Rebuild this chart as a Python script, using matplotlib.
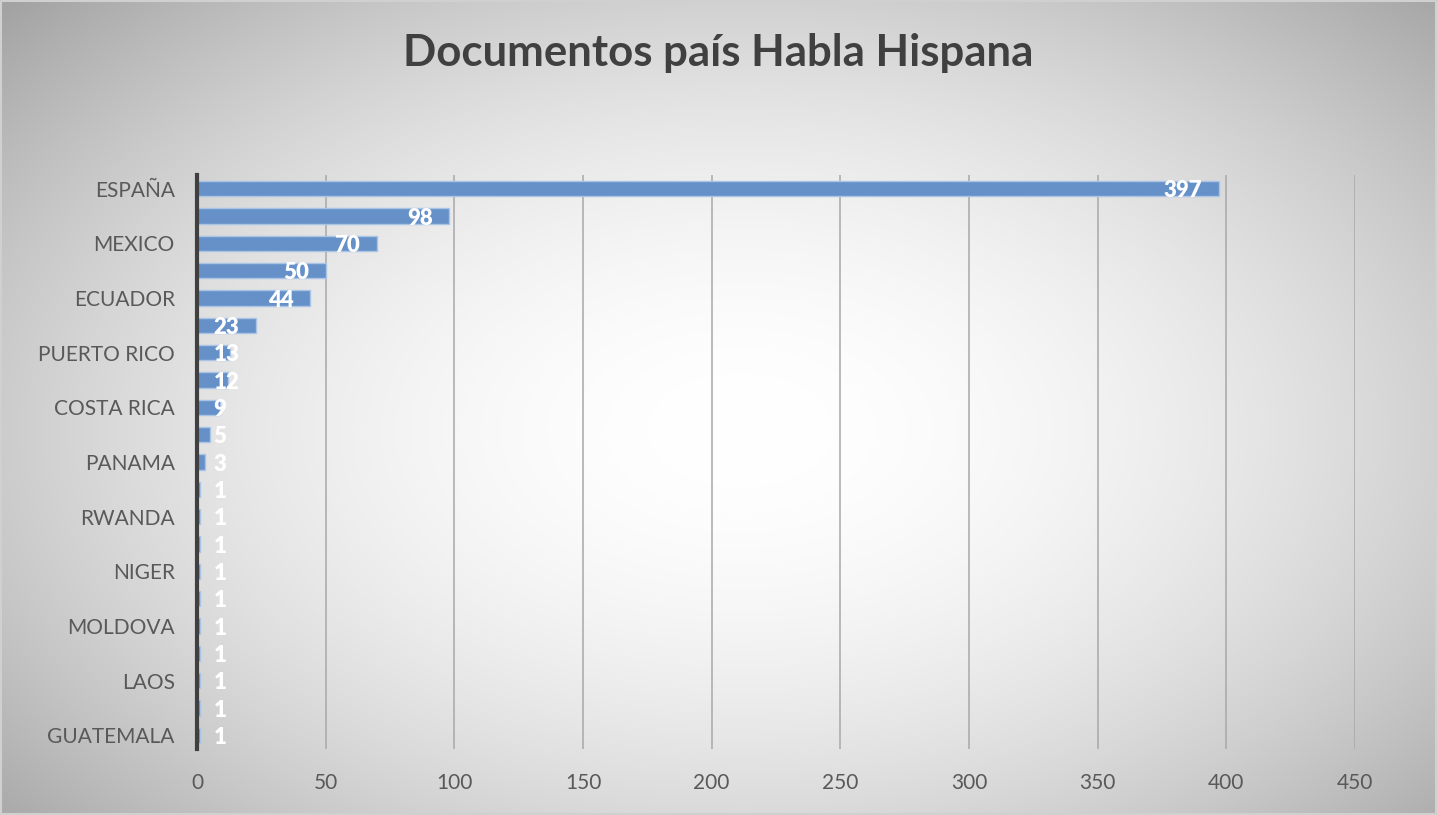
import numpy as np
import matplotlib
matplotlib.use("Agg")
import matplotlib.pyplot as plt

# datos (de arriba a abajo); las etiquetas vacías no se ven en el original
paises = ["ESPAÑA", "", "MEXICO", "", "ECUADOR", "", "PUERTO RICO", "",
          "COSTA RICA", "", "PANAMA", "", "RWANDA", "", "NIGER", "",
          "MOLDOVA", "", "LAOS", "", "GUATEMALA"]
documentos = [397, 98, 70, 50, 44, 23, 13, 12, 9, 5, 3,
              1, 1, 1, 1, 1, 1, 1, 1, 1, 1]
x_ticks = [0, 50, 100, 150, 200, 250, 300, 350, 400, 450]

W, H = 1437, 815
fig = plt.figure(figsize=(W / 100, H / 100), dpi=100)

# fondo con degradado radial
bg = fig.add_axes([0, 0, 1, 1], zorder=-10)
yy, xx = np.mgrid[0:H, 0:W]
d = np.sqrt(((xx - 740) / 880.0) ** 2 + ((yy - 430) / 540.0) ** 2)
d = np.clip(d, 0, 1.2)
g = 1 - 0.28 * d ** 1.9
bg.imshow(np.dstack([g, g, g]), extent=[0, 1, 0, 1], aspect="auto", origin="upper")
bg.plot([0.001, 0.999, 0.999, 0.001, 0.001], [0.001, 0.001, 0.999, 0.999, 0.001],
        color="#d0d0d0", lw=1.5)
bg.set_xlim(0, 1)
bg.set_ylim(0, 1)
bg.axis("off")

ax = fig.add_axes([197 / W, 1 - 749 / H, (1355 - 197) / W, (749 - 175) / H])
ax.patch.set_alpha(0)

y = np.arange(len(paises))
ax.barh(y, documentos, height=0.55, color="#6591c8", edgecolor="#a9c4e4",
        linewidth=1, zorder=3)
ax.set_xlim(0, 450)
ax.set_ylim(len(paises) - 0.5, -0.5)
ax.set_xticks(x_ticks)
ax.set_yticks(y[::2])
ax.set_yticklabels(paises[::2])
ax.tick_params(length=0, labelsize=15, colors="#595959")
ax.tick_params(axis="y", pad=16)
ax.tick_params(axis="x", pad=17)
for lbl in ax.get_xticklabels() + ax.get_yticklabels():
    lbl.set_fontfamily("Lato")

ax.grid(axis="x", color="#a8a8a8", linewidth=1.1, zorder=0)
ax.grid(axis="y", visible=False)
for s in ["top", "right", "bottom"]:
    ax.spines[s].set_visible(False)
ax.spines["left"].set_color("#404040")
ax.spines["left"].set_linewidth(3)
ax.spines["left"].set_zorder(5)

ppu = (1355 - 197) / 450.0
for yi, v in zip(y, documentos):
    txt = str(v)
    tw = 12 * len(txt)
    if v * ppu - 16 - tw >= 16:
        ax.annotate(txt, (v, yi), xytext=(-12, -1.5), textcoords="offset points",
                    ha="right", va="center", color="white", fontsize=16,
                    fontweight="heavy", family="Lato", zorder=6)
    else:
        ax.annotate(txt, (0, yi), xytext=(12, -1.5), textcoords="offset points",
                    ha="left", va="center", color="white", fontsize=16,
                    fontweight="heavy", family="Lato", zorder=6)

fig.text(0.5, 1 - 53 / H, "Documentos país Habla Hispana", ha="center", va="center",
         fontsize=31.5, fontweight="bold", color="#404040", family="Lato")

fig.savefig("out.png", dpi=100)
